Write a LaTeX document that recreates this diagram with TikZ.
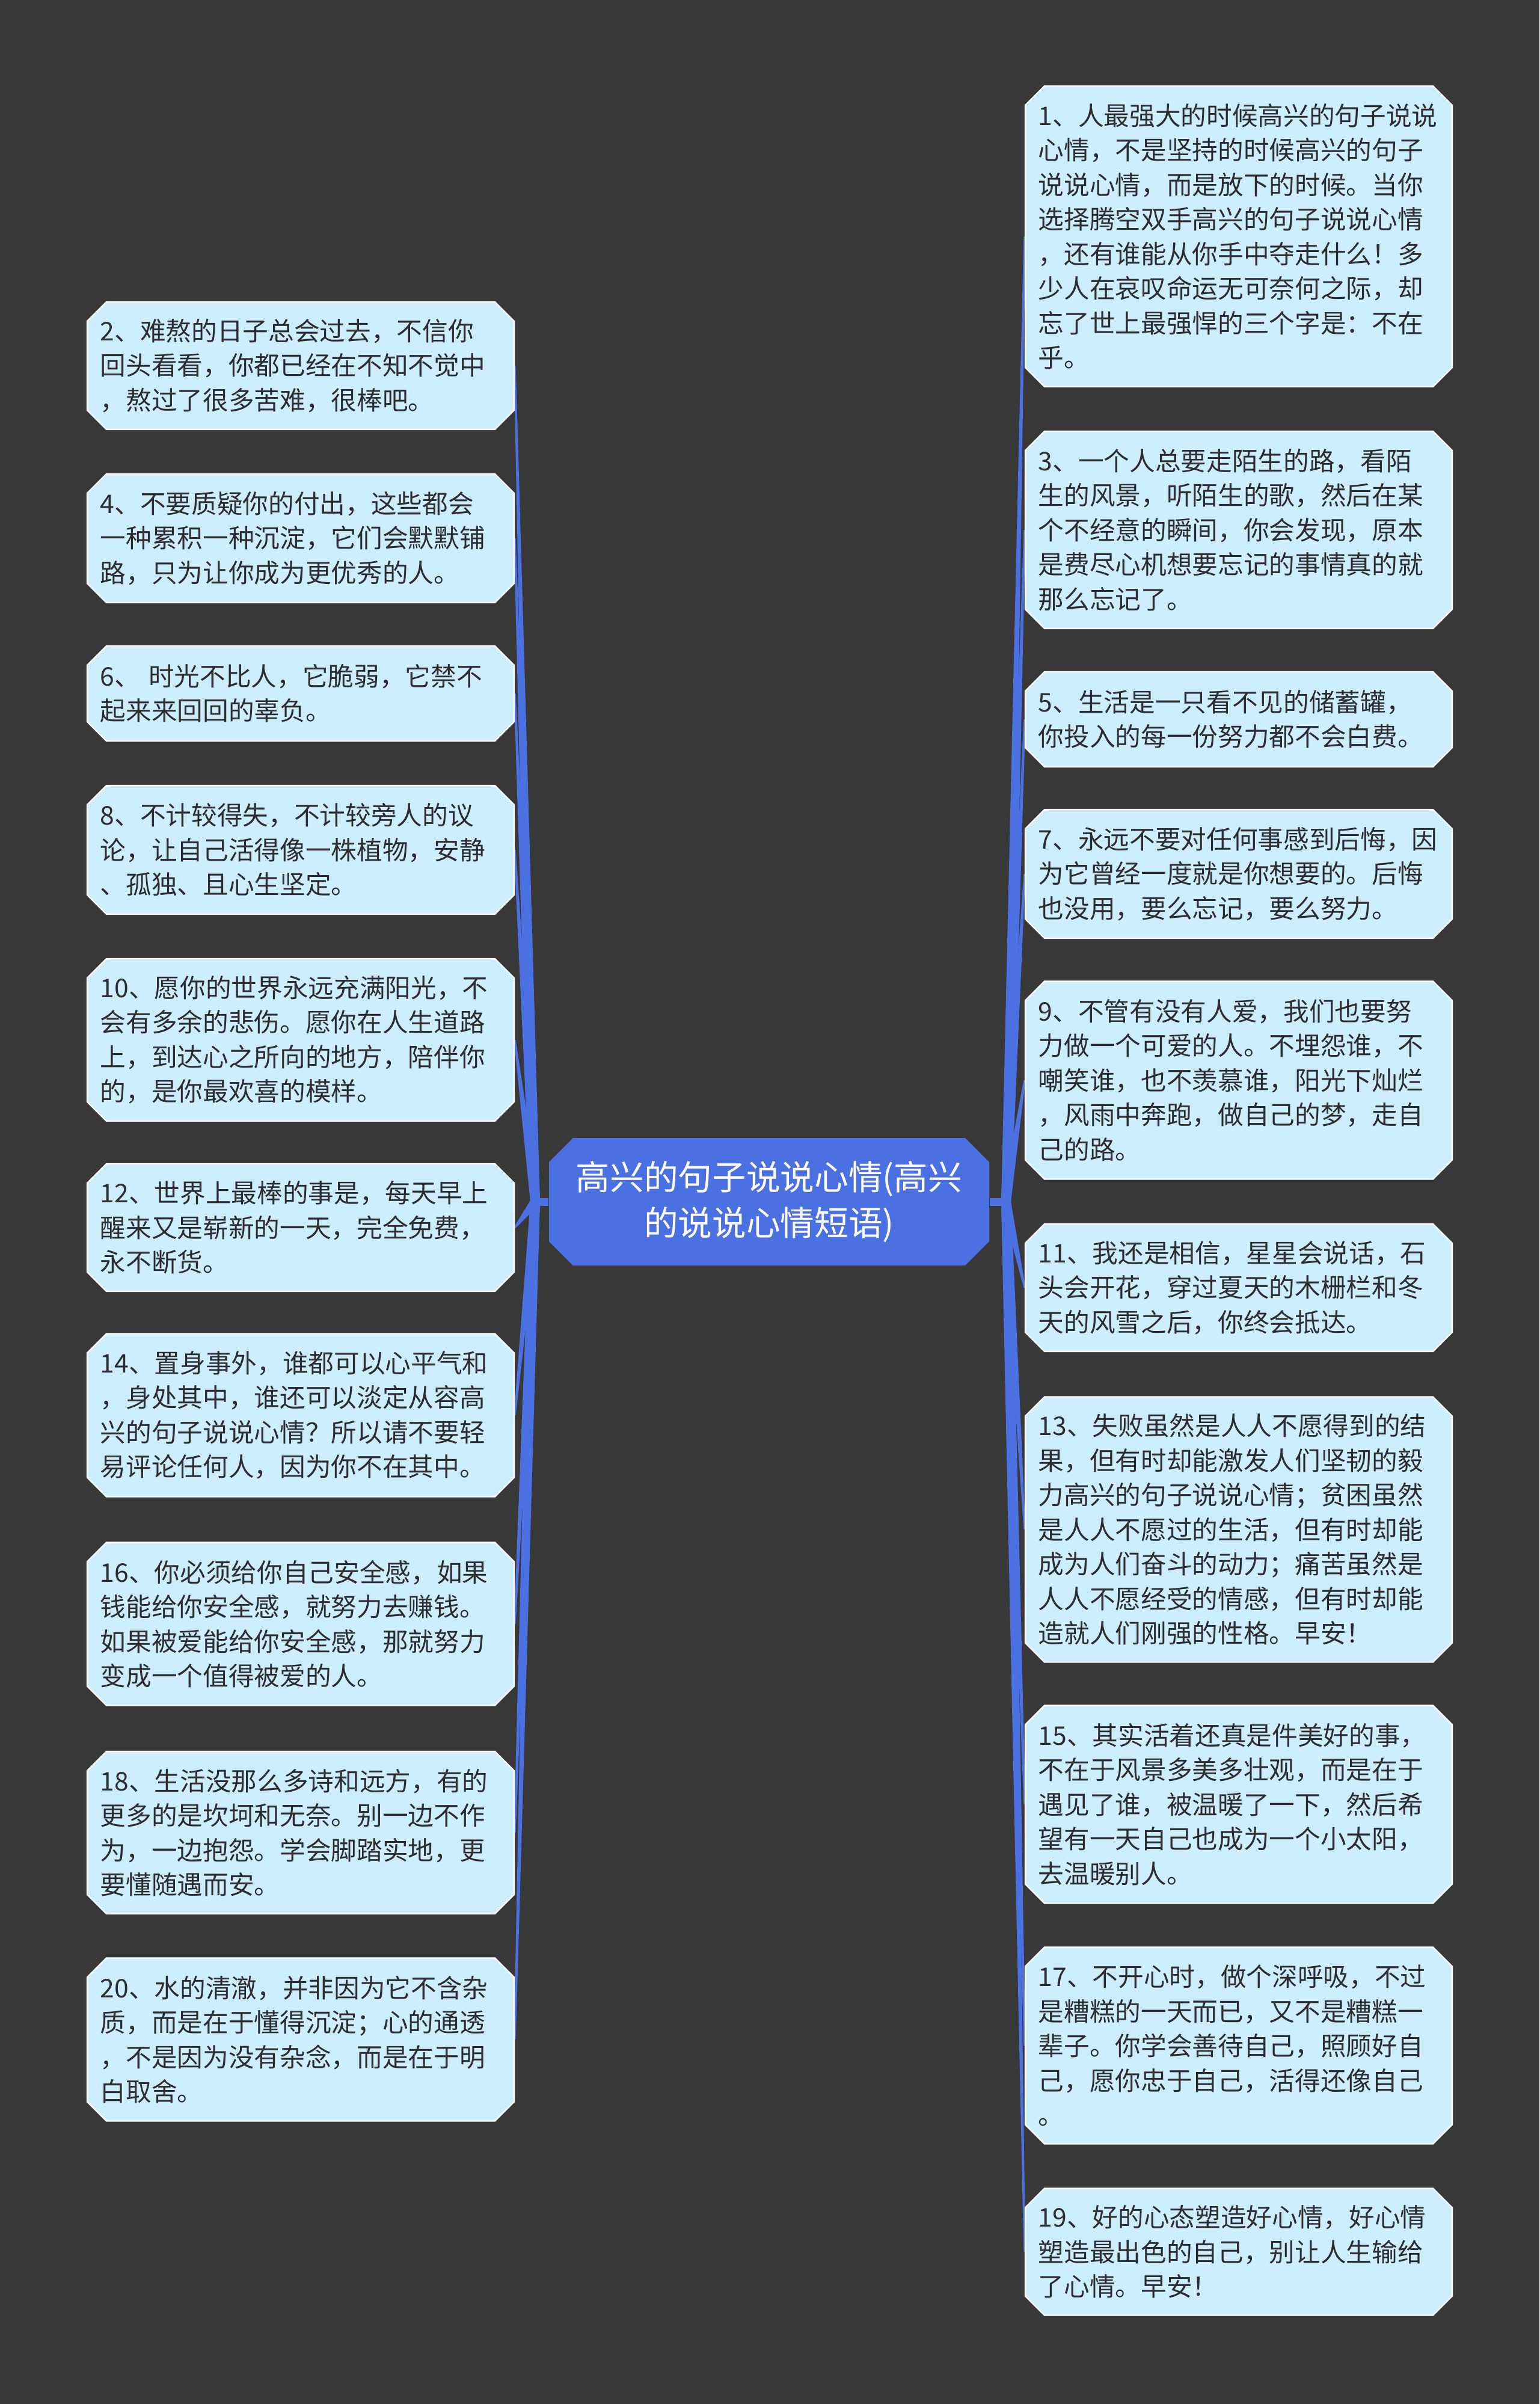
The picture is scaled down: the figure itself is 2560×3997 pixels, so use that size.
\documentclass[tikz,border=0pt]{standalone}
\usepackage{fontspec}
\newfontfamily\cjk{Noto Sans CJK SC}
\usetikzlibrary{shapes.misc,calc,backgrounds}
\definecolor{bgc}{RGB}{57,56,57}
\definecolor{leaffill}{RGB}{204,238,254}
\definecolor{linkc}{RGB}{75,112,225}
\definecolor{txtc}{RGB}{45,45,45}
\tikzset{
  leafbox/.style={chamfered rectangle, chamfered rectangle xsep=4.8pt, chamfered rectangle ysep=4.8pt,
    fill=leaffill, draw=white, line width=0.7pt, inner sep=0pt, text width=200pt, minimum width=213pt,
    align=left, font=\cjk\fontsize{12.8pt}{17.25pt}\selectfont, text=txtc},
  rootbox/.style={chamfered rectangle, chamfered rectangle xsep=6pt, chamfered rectangle ysep=6pt,
    fill=linkc, inner sep=0pt, minimum width=219.6pt, minimum height=63.6pt,
    align=center, font=\cjk\fontsize{17pt}{23pt}\selectfont, text=white},
  linkfill/.style={fill=linkc},
  linkbar/.style={draw=linkc, line width=3.9pt}
}
\newcommand\leafnode[5]{\node[leafbox, minimum height=#4*0.3pt] (#1) at (#2,#3) {#5};}
\newcommand\branchwedge[2]{\fill[linkfill] ($(#1)!2.4pt!90:(#2)$) -- ($(#2)!0.45pt!-90:(#1)$) -- ($(#2)!0.45pt!90:(#1)$) -- ($(#1)!2.4pt!-90:(#2)$) -- cycle;}
\begin{document}
\begin{tikzpicture}[x=0.3pt,y=-0.3pt]
\useasboundingbox (0,0) rectangle (2560,3997);

\node[rootbox] (root) at (1279,1998) {高兴的句子说说心情(高兴\\的说说心情短语)};
\coordinate (JL) at (890,1998);
\coordinate (JR) at (1673,1998);

% right column
\leafnode{b1}{2060}{393}{500}{1、人最强大的时候高兴的句子说说\\心情，不是坚持的时候高兴的句子\\说说心情，而是放下的时候。当你\\选择腾空双手高兴的句子说说心情\\，还有谁能从你手中夺走什么！多\\少人在哀叹命运无可奈何之际，却\\忘了世上最强悍的三个字是：不在\\乎。}
\leafnode{b3}{2060}{881}{328}{3、一个人总要走陌生的路，看陌\\生的风景，听陌生的歌，然后在某\\个不经意的瞬间，你会发现，原本\\是费尽心机想要忘记的事情真的就\\那么忘记了。}
\leafnode{b5}{2060}{1196}{158}{5、生活是一只看不见的储蓄罐，\\你投入的每一份努力都不会白费。}
\leafnode{b7}{2060}{1453}{214}{7、永远不要对任何事感到后悔，因\\为它曾经一度就是你想要的。后悔\\也没用，要么忘记，要么努力。}
\leafnode{b9}{2060}{1796}{329}{9、不管有没有人爱，我们也要努\\力做一个可爱的人。不埋怨谁，不\\嘲笑谁，也不羡慕谁，阳光下灿烂\\，风雨中奔跑，做自己的梦，走自\\己的路。}
\leafnode{b11}{2060}{2141}{212}{11、我还是相信，星星会说话，石\\头会开花，穿过夏天的木栅栏和冬\\天的风雪之后，你终会抵达。}
\leafnode{b13}{2060}{2543}{441}{13、失败虽然是人人不愿得到的结\\果，但有时却能激发人们坚韧的毅\\力高兴的句子说说心情；贫困虽然\\是人人不愿过的生活，但有时却能\\成为人们奋斗的动力；痛苦虽然是\\人人不愿经受的情感，但有时却能\\造就人们刚强的性格。早安！}
\leafnode{b15}{2060}{3000}{329}{15、其实活着还真是件美好的事，\\不在于风景多美多壮观，而是在于\\遇见了谁，被温暖了一下，然后希\\望有一天自己也成为一个小太阳，\\去温暖别人。}
\leafnode{b17}{2060}{3401}{327}{17、不开心时，做个深呼吸，不过\\是糟糕的一天而已，又不是糟糕一\\辈子。你学会善待自己，照顾好自\\己，愿你忠于自己，活得还像自己\\。}
\leafnode{b19}{2060}{3744}{211}{19、好的心态塑造好心情，好心情\\塑造最出色的自己，别让人生输给\\了心情。早安！}

% left column
\leafnode{b2}{500}{608}{212}{2、难熬的日子总会过去，不信你\\回头看看，你都已经在不知不觉中\\，熬过了很多苦难，很棒吧。}
\leafnode{b4}{500}{895}{214}{4、不要质疑你的付出，这些都会\\一种累积一种沉淀，它们会默默铺\\路，只为让你成为更优秀的人。}
\leafnode{b6}{500}{1153}{158}{6、 时光不比人，它脆弱，它禁不\\起来来回回的辜负。}
\leafnode{b8}{500}{1413}{214}{8、不计较得失，不计较旁人的议\\论，让自己活得像一株植物，安静\\、孤独、且心生坚定。}
\leafnode{b10}{500}{1729}{270}{10、愿你的世界永远充满阳光，不\\会有多余的悲伤。愿你在人生道路\\上，到达心之所向的地方，陪伴你\\的，是你最欢喜的模样。}
\leafnode{b12}{500}{2041}{212}{12、世界上最棒的事是，每天早上\\醒来又是崭新的一天，完全免费，\\永不断货。}
\leafnode{b14}{500}{2353}{271}{14、置身事外，谁都可以心平气和\\，身处其中，谁还可以淡定从容高\\兴的句子说说心情？所以请不要轻\\易评论任何人，因为你不在其中。}
\leafnode{b16}{500}{2700}{271}{16、你必须给你自己安全感，如果\\钱能给你安全感，就努力去赚钱。\\如果被爱能给你安全感，那就努力\\变成一个值得被爱的人。}
\leafnode{b18}{500}{3047}{270}{18、生活没那么多诗和远方，有的\\更多的是坎坷和无奈。别一边不作\\为，一边抱怨。学会脚踏实地，更\\要懂随遇而安。}
\leafnode{b20}{500}{3391}{271}{20、水的清澈，并非因为它不含杂\\质，而是在于懂得沉淀；心的通透\\，不是因为没有杂念，而是在于明\\白取舍。}

\begin{scope}[on background layer]
  \fill[bgc] (0,0) rectangle (2560,3997);
  \draw[linkbar] (root.west) -- (JL);
  \draw[linkbar] (root.east) -- (JR);
  \foreach \n in {2,4,...,20} {\branchwedge{JL}{b\n.east}}
  \foreach \n in {1,3,...,19} {\branchwedge{JR}{b\n.west}}
\end{scope}
\end{tikzpicture}
\end{document}
